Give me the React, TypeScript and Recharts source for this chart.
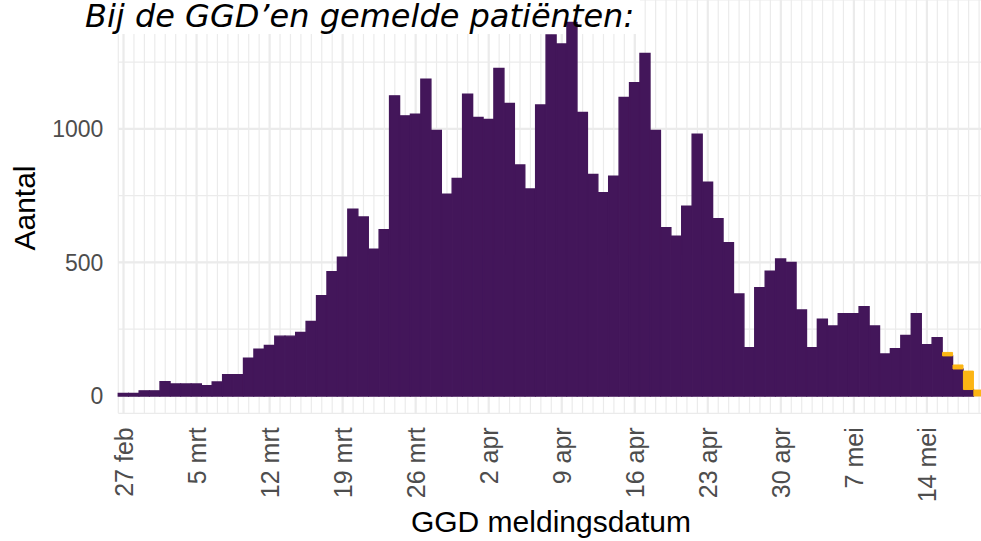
import { BarChart, Bar, XAxis, YAxis, CartesianGrid } from 'recharts';

// dagen van 27 feb t/m 19 mei
const dagen = [
  '27 feb', '28 feb', '29 feb',
  '1 mrt', '2 mrt', '3 mrt', '4 mrt', '5 mrt', '6 mrt', '7 mrt', '8 mrt', '9 mrt', '10 mrt',
  '11 mrt', '12 mrt', '13 mrt', '14 mrt', '15 mrt', '16 mrt', '17 mrt', '18 mrt', '19 mrt', '20 mrt',
  '21 mrt', '22 mrt', '23 mrt', '24 mrt', '25 mrt', '26 mrt', '27 mrt', '28 mrt', '29 mrt', '30 mrt', '31 mrt',
  '1 apr', '2 apr', '3 apr', '4 apr', '5 apr', '6 apr', '7 apr', '8 apr', '9 apr', '10 apr',
  '11 apr', '12 apr', '13 apr', '14 apr', '15 apr', '16 apr', '17 apr', '18 apr', '19 apr', '20 apr',
  '21 apr', '22 apr', '23 apr', '24 apr', '25 apr', '26 apr', '27 apr', '28 apr', '29 apr', '30 apr',
  '1 mei', '2 mei', '3 mei', '4 mei', '5 mei', '6 mei', '7 mei', '8 mei', '9 mei', '10 mei',
  '11 mei', '12 mei', '13 mei', '14 mei', '15 mei', '16 mei', '17 mei', '18 mei', '19 mei',
];

// gemelde patiënten per dag
const gemeld = [
  9, 9, 19,
  19, 53, 45, 45, 45, 38, 52, 80, 80, 141,
  175, 189, 224, 224, 238, 279, 375, 465, 520, 699,
  670, 550, 623, 1124, 1049, 1055, 1186, 994, 756, 815, 1130,
  1043, 1036, 1227, 1096, 865, 775, 1090, 1352, 1318, 1399,
  1062, 830, 761, 823, 1118, 1173, 1283, 994, 630, 598,
  711, 980, 801, 664, 574, 382, 181, 405, 467, 513,
  500, 322, 181, 287, 262, 308, 308, 334, 262, 157,
  177, 227, 308, 192, 218, 150, 101, 24, 0,
];

// laatste dagen (nog aangevuld, oranje)
const recenteDagen = ['16 mei', '17 mei', '18 mei', '19 mei'];
const recenteAantallen = [13, 15, 69, 22];

const weekTicks = ['27 feb', '5 mrt', '12 mrt', '19 mrt', '26 mrt', '2 apr', '9 apr', '16 apr', '23 apr', '30 apr', '7 mei', '14 mei'];
const yTicks = [0, 250, 500, 750, 1000, 1250];
const yLabels = [0, 500, 1000];

const data = dagen.map((dag, i) => {
  const j = recenteDagen.indexOf(dag);
  return { dag, gemeld: gemeld[i], recent: j >= 0 ? recenteAantallen[j] : 0 };
});

const PAARS = '#43165a';
const ORANJE = '#fcb514';
const GRID = '#ebebeb';
const SANS = '"Liberation Sans", Arial, sans-serif';

const chartProps = {
  width: 990,
  height: 541,
  data,
  margin: { top: 0, right: 5.7, bottom: 0, left: 0 },
  barCategoryGap: 0,
  barGap: 0,
};

const DatumTick = ({ x, y, payload }: any) => {
  if (!weekTicks.includes(payload.value)) return <g />;
  return (
    <text
      transform={`translate(${x},${y + 14}) rotate(-90)`}
      textAnchor="end"
      dy="0.36em"
      fontSize={25}
      fontFamily={SANS}
      fill="#4d4d4d"
    >
      {payload.value}
    </text>
  );
};

const leeg = () => '';

const layer: React.CSSProperties = { position: 'absolute', left: 0, top: 0 };

export default function App() {
  return (
    <div style={{ position: 'fixed', left: 0, top: 0, width: 981, height: 541, overflow: 'hidden', background: '#fff' }}>
      {/* achtergrond: rasterlijnen */}
      <div style={layer}>
        <BarChart {...chartProps}>
          <CartesianGrid stroke={GRID} strokeWidth={1.2} />
          <CartesianGrid stroke={GRID} strokeWidth={2.2} verticalValues={weekTicks} horizontalValues={yLabels} />
          <XAxis dataKey="dag" interval={0} axisLine={false} tickLine={false} tickFormatter={leeg} tickSize={0} height={127.7} />
          <YAxis
            type="number"
            domain={[-65, 1483]}
            allowDataOverflow
            ticks={yTicks}
            axisLine={false}
            tickLine={false}
            tickFormatter={leeg}
            tickSize={0}
            width={118.3}
          />
          <Bar dataKey="gemeld" stackId="a" fill="none" isAnimationActive={false} />
        </BarChart>
      </div>
      {/* witte achtergrond onder de titel */}
      <div style={{ ...layer, left: 80, width: 560, height: 34, background: '#fff' }} />
      {/* staven en assen */}
      <div style={layer}>
        <BarChart {...chartProps}>
          <XAxis
            dataKey="dag"
            interval={0}
            axisLine={false}
            tickLine={false}
            tickSize={0}
            tickMargin={0}
            height={127.7}
            tick={<DatumTick />}
          />
          <YAxis
            type="number"
            domain={[-65, 1483]}
            allowDataOverflow
            ticks={yTicks}
            tickFormatter={(v: number) => (yLabels.includes(v) ? String(v) : '')}
            axisLine={false}
            tickLine={false}
            tickSize={0}
            tickMargin={15}
            width={118.3}
            tick={{ fill: '#4d4d4d', fontSize: 23, fontFamily: SANS }}
          />
          <Bar dataKey="gemeld" stackId="a" fill={PAARS} stroke={PAARS} strokeWidth={1.4} isAnimationActive={false} />
          <Bar dataKey="recent" stackId="a" fill={ORANJE} stroke={ORANJE} strokeWidth={1} isAnimationActive={false} />
        </BarChart>
      </div>
      <svg width={981} height={541} style={{ ...layer, pointerEvents: 'none' }}>
        <text x={85} y={27} fontFamily='"DejaVu Sans", Verdana, sans-serif' fontStyle="italic" fontSize={32} fill="#000">
          Bij de GGD’en gemelde patiënten:
        </text>
        <text transform="translate(35,208) rotate(-90)" textAnchor="middle" fontFamily={SANS} fontSize={30} fill="#000">
          Aantal
        </text>
        <text x={551} y={532} textAnchor="middle" fontFamily={SANS} fontSize={30} fill="#000">
          GGD meldingsdatum
        </text>
      </svg>
    </div>
  );
}
